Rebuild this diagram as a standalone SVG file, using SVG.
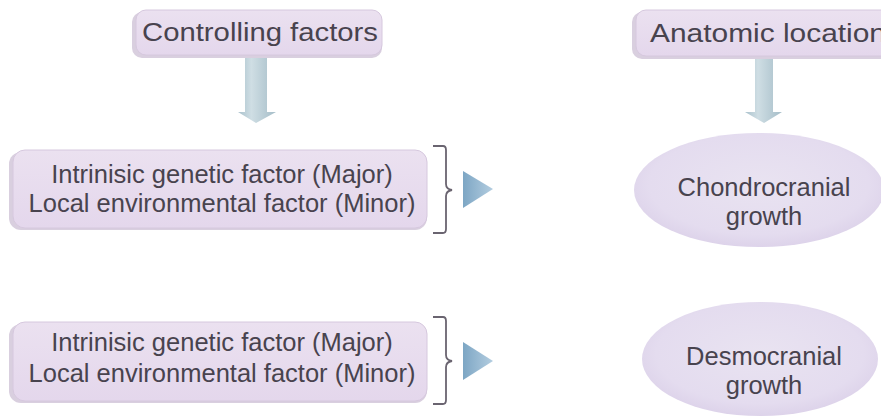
<svg xmlns="http://www.w3.org/2000/svg" width="881" height="417" viewBox="0 0 881 417">
<defs>
<linearGradient id="boxg" x1="0" y1="0" x2="0" y2="1">
<stop offset="0" stop-color="#ebe1f0"/>
<stop offset="1" stop-color="#e4d7ec"/>
</linearGradient>
<radialGradient id="ellg" cx="0.5" cy="0.45" r="0.55">
<stop offset="0" stop-color="#e9e3f1"/>
<stop offset="0.8" stop-color="#e4dcef"/>
<stop offset="1" stop-color="#ddd3ea"/>
</radialGradient>
<linearGradient id="arrg" x1="0" y1="0" x2="1" y2="0">
<stop offset="0" stop-color="#a9c1cc"/>
<stop offset="0.35" stop-color="#cfdee4"/>
<stop offset="1" stop-color="#a5bdc8"/>
</linearGradient>
<linearGradient id="trig" x1="0" y1="0" x2="1" y2="0">
<stop offset="0" stop-color="#7da6c4"/>
<stop offset="1" stop-color="#b3cde0"/>
</linearGradient>
</defs>
<style>
.box{fill:url(#boxg);stroke:#d6c8de;stroke-width:1}
.shadow{fill:#d9cfdf}
.ell{fill:url(#ellg)}
.t{font-family:"Liberation Sans",Arial,sans-serif;font-size:25.5px;fill:#48434e;text-anchor:middle}
.h{font-family:"Liberation Sans",Arial,sans-serif;font-size:26px;fill:#48434e}
.br{fill:none;stroke:#6a6470;stroke-width:1.8}
.tri{fill:url(#trig)}
.arr{fill:url(#arrg)}
</style>
<rect width="881" height="417" fill="#ffffff"/>
<g id="connectors">
<path class="arr" d="M245,56 H267 V112 H276 L256,123 L238,112 H245 Z"/>
<path class="arr" d="M755,58 H773 V112 H782 L764,123 L745,112 H755 Z"/>
<path class="br" d="M433,146 H443 Q446,146 446,150 V184 Q446,189 452,190 Q446,191 446,196 V229 Q446,233 443,233 H433"/>
<polygon class="tri" points="463,171 493,189 463,208"/>
<path class="br" d="M433,317 H443 Q446,317 446,321 V355 Q446,360 452,361 Q446,362 446,367 V400 Q446,404 443,404 H433"/>
<polygon class="tri" points="463,342 493,361 463,380"/>
</g>
<g id="controlling">
<rect class="shadow" x="132" y="12" width="250" height="46" rx="10"/>
<rect class="box" x="136" y="10" width="246" height="45" rx="10"/>
<text class="h" x="142" y="41" textLength="236" lengthAdjust="spacingAndGlyphs">Controlling factors</text>
</g>
<g id="anatomic">
<rect class="shadow" x="632" y="12" width="260" height="47" rx="10"/>
<rect class="box" x="636" y="10" width="256" height="46" rx="10"/>
<text class="h" x="650" y="42" textLength="236" lengthAdjust="spacingAndGlyphs">Anatomic location</text>
</g>
<g id="factors1">
<rect class="shadow" x="9" y="152" width="418" height="78" rx="12"/>
<rect class="box" x="13" y="150" width="414" height="78" rx="12"/>
<text class="t" x="222" y="183">Intrinisic genetic factor (Major)</text>
<text class="t" x="222" y="212">Local environmental factor (Minor)</text>
</g>
<g id="chondro">
<ellipse class="ell" cx="759" cy="190" rx="125" ry="57"/>
<text class="t" x="764" y="196">Chondrocranial</text>
<text class="t" x="764" y="225">growth</text>
</g>
<g id="factors2">
<rect class="shadow" x="9" y="324" width="418" height="79" rx="12"/>
<rect class="box" x="13" y="322" width="414" height="79" rx="12"/>
<text class="t" x="222" y="351">Intrinisic genetic factor (Major)</text>
<text class="t" x="222" y="382">Local environmental factor (Minor)</text>
</g>
<g id="desmo">
<ellipse class="ell" cx="760" cy="359" rx="118" ry="57"/>
<text class="t" x="764" y="365">Desmocranial</text>
<text class="t" x="764" y="394">growth</text>
</g>
</svg>
